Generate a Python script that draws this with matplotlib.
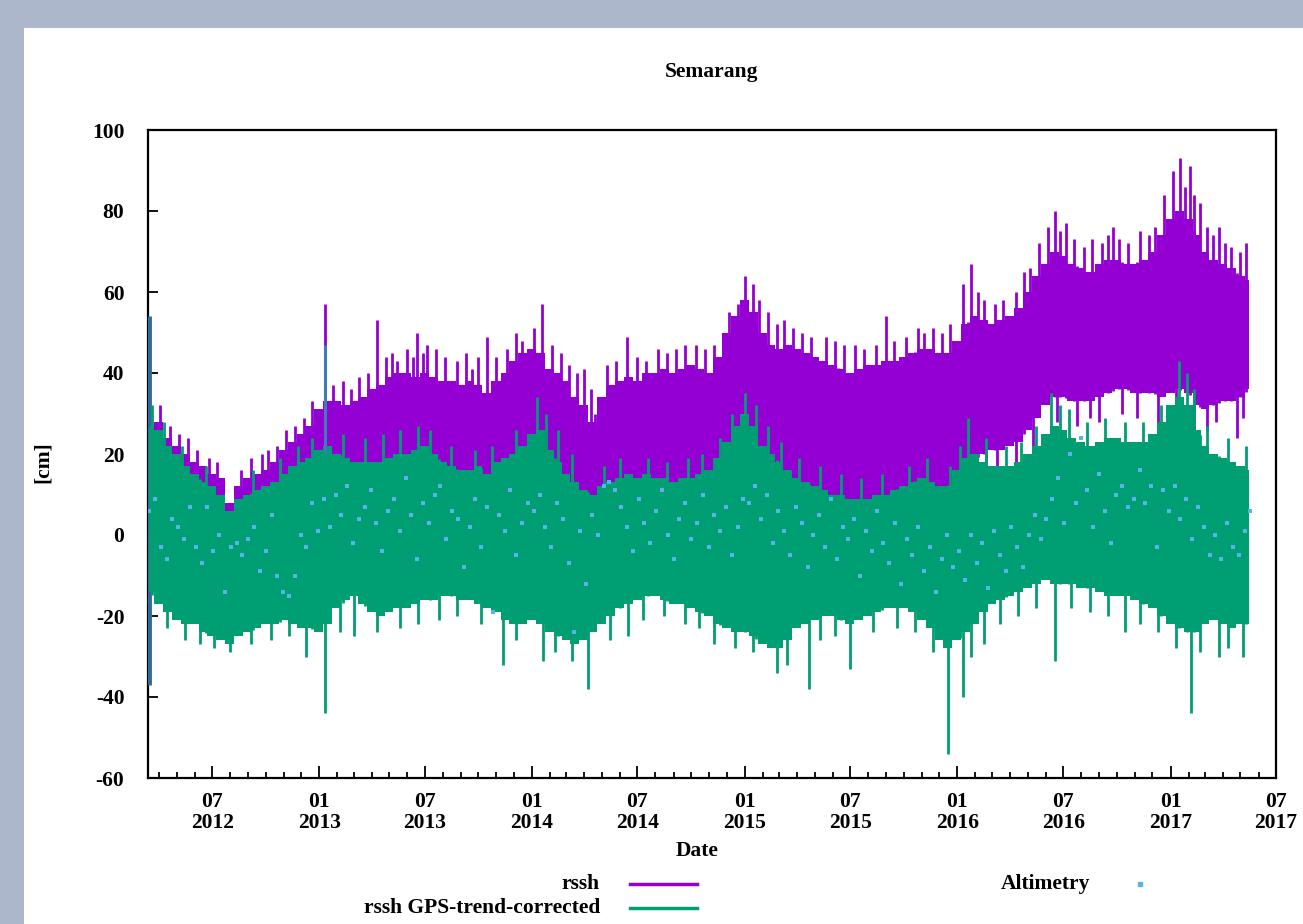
import numpy as np
import pandas as pd
import matplotlib
matplotlib.use("Agg")
import matplotlib.pyplot as plt
import matplotlib.dates as mdates
from matplotlib.patches import Rectangle
from matplotlib.lines import Line2D

plt.rcParams['font.family'] = ['Liberation Serif', 'DejaVu Serif']
plt.rcParams['axes.unicode_minus'] = False

# ---------------- data ----------------
title = "Semarang"
y_label = "[cm]"
x_label = "Date"
series_names = ["rssh", "rssh GPS-trend-corrected", "Altimetry"]

# semi-monthly samples (1st and 15th), 2012-03-15 .. 2017-05-15
band_start = "2012-03-15"
# rssh: upper / lower edge of the dense band
rssh_hi = [27, 28, 24, 22, 20, 18, 17, 15, 14, 8, 12, 14, 15, 16, 18, 21, 23, 25, 27,
           31, 33, 33, 32, 33, 34, 36, 37, 39, 40, 40, 39, 40, 39, 38, 38, 37, 38, 37, 35, 38, 40, 43, 45,
           46, 45, 41, 40, 38, 34, 32, 28, 34, 37, 38, 39, 38, 40, 40, 41, 40, 41, 42, 41, 40, 44, 50, 54,
           58, 55, 50, 47, 46, 47, 46, 45, 44, 43, 42, 41, 40, 41, 42, 42, 43, 43, 44, 45, 46, 46, 45, 45,
           48, 52, 54, 53, 52, 53, 54, 56, 60, 64, 67, 70, 69, 67, 66, 65, 67, 68, 68, 67, 67, 68, 70, 74,
           78, 80, 78, 74, 70, 68, 67, 66, 64, 63]
rssh_lo = [-12, -14, -16, -18, -18, -17, -18, -19, -19, -19, -18, -17, -16, -14, -13, -12, -11, -9, -7,
           -5, -3, -3, -2, 0, 1, 2, 3, 4, 4, 5, 6, 7, 7, 7, 8, 7, 7, 6, 5, 6, 6, 8, 10,
           12, 12, 9, 8, 6, 4, 3, 5, 8, 9, 10, 10, 10, 11, 11, 11, 10, 11, 12, 12, 13, 15, 18, 20,
           22, 20, 17, 15, 14, 14, 13, 12, 11, 10, 9, 8, 6, 6, 7, 8, 9, 10, 11, 12, 13, 13, 12, 11,
           14, 17, 19, 20, 21, 21, 22, 23, 26, 29, 32, 34, 34, 33, 33, 33, 34, 35, 36, 36, 35, 35, 35, 34,
           35, 36, 35, 32, 31, 32, 33, 33, 34, 36]
# GPS-trend-corrected rssh: upper / lower edge of the dense band
corr_hi = [27, 26, 22, 20, 17, 15, 13, 12, 10, 6, 9, 10, 11, 12, 13, 15, 17, 18, 19,
           21, 22, 20, 19, 18, 18, 18, 18, 19, 20, 20, 21, 22, 20, 18, 17, 16, 16, 17, 15, 18, 19, 20, 22,
           25, 26, 21, 18, 15, 13, 11, 10, 12, 13, 14, 15, 14, 15, 14, 14, 13, 14, 14, 15, 16, 19, 23, 27,
           30, 27, 22, 20, 18, 16, 14, 13, 12, 11, 10, 10, 9, 9, 9, 10, 10, 11, 12, 13, 14, 13, 12, 12,
           16, 19, 20, 18, 17, 17, 17, 18, 20, 22, 25, 27, 26, 24, 23, 22, 23, 24, 24, 23, 23, 23, 25, 28,
           32, 34, 32, 26, 22, 20, 19, 18, 17, 16]
corr_lo = [-14, -17, -19, -21, -22, -22, -24, -25, -26, -27, -25, -24, -23, -22, -22, -21, -22, -23, -23,
           -24, -22, -18, -16, -15, -17, -19, -20, -19, -18, -18, -17, -16, -16, -15, -15, -16, -16, -17, -18, -19, -21, -22, -22,
           -21, -22, -24, -25, -26, -27, -26, -24, -22, -20, -18, -17, -16, -15, -15, -16, -17, -17, -18, -19, -20, -22, -23, -24,
           -24, -25, -27, -28, -28, -26, -23, -22, -21, -20, -20, -21, -22, -21, -20, -19, -18, -18, -18, -19, -21, -23, -26, -28,
           -26, -24, -22, -19, -17, -16, -15, -14, -13, -12, -11, -12, -12, -12, -13, -13, -14, -15, -15, -15, -16, -17, -18, -20,
           -22, -23, -24, -24, -22, -21, -22, -23, -22, -22]

# isolated spikes above / below the bands (date, value)
rssh_up_dates = ["2012-04-03", "2012-04-20", "2012-05-05", "2012-05-20", "2012-06-05", "2012-06-25", "2012-07-10",
                 "2012-08-20", "2012-09-05", "2012-09-25", "2012-10-05", "2012-10-20", "2012-11-05", "2012-11-20",
                 "2012-12-05", "2012-12-20",
                 "2013-01-11", "2013-01-25", "2013-02-10", "2013-02-25", "2013-03-10", "2013-03-25", "2013-04-10",
                 "2013-04-25", "2013-05-05", "2013-05-15", "2013-06-01", "2013-06-10", "2013-06-18", "2013-06-28",
                 "2013-07-05", "2013-07-20", "2013-08-05", "2013-08-25", "2013-09-10", "2013-09-20", "2013-09-30",
                 "2013-10-16", "2013-11-01", "2013-11-20", "2013-12-05", "2013-12-15",
                 "2014-01-05", "2014-01-18", "2014-02-05", "2014-02-20", "2014-03-05", "2014-03-20", "2014-04-01",
                 "2014-04-12", "2014-05-10", "2014-05-25", "2014-06-13", "2014-07-01", "2014-07-15", "2014-08-05",
                 "2014-08-20", "2014-09-05", "2014-09-20", "2014-10-10", "2014-10-25", "2014-11-10", "2014-11-25",
                 "2014-12-05", "2014-12-20",
                 "2015-01-02", "2015-01-15", "2015-01-25", "2015-02-10", "2015-02-25", "2015-03-10", "2015-03-25",
                 "2015-04-10", "2015-04-25", "2015-05-20", "2015-06-05", "2015-06-20", "2015-07-10", "2015-07-25",
                 "2015-08-15", "2015-08-31", "2015-09-15", "2015-10-05", "2015-10-25", "2015-11-05", "2015-11-20",
                 "2015-12-05", "2015-12-20",
                 "2016-01-10", "2016-01-25", "2016-02-05", "2016-02-15", "2016-03-05", "2016-03-20", "2016-04-10",
                 "2016-04-25", "2016-05-05", "2016-05-20", "2016-06-05", "2016-06-17", "2016-06-25", "2016-07-05",
                 "2016-07-20", "2016-08-05", "2016-08-20", "2016-09-05", "2016-09-15", "2016-09-25", "2016-10-05",
                 "2016-10-20", "2016-11-10", "2016-11-25", "2016-12-05", "2016-12-20",
                 "2017-01-05", "2017-01-18", "2017-01-25", "2017-02-03", "2017-02-10", "2017-02-20", "2017-03-05",
                 "2017-03-15", "2017-03-25", "2017-04-05", "2017-04-15", "2017-05-01", "2017-05-10"]
rssh_up_vals = [32, 27, 25, 24, 21, 19, 18, 16, 19, 20, 21, 22, 26, 27, 29, 33,
                57, 37, 38, 36, 39, 40, 53, 44, 45, 43, 46, 44, 50, 45, 47, 46, 44, 43, 45, 41, 44, 49, 44, 46, 50, 48,
                51, 57, 47, 45, 42, 40, 41, 36, 42, 43, 49, 44, 43, 46, 45, 46, 47, 47, 46, 47, 50, 55, 57,
                64, 62, 58, 55, 52, 53, 51, 50, 49, 49, 48, 47, 47, 46, 47, 54, 48, 49, 51, 50, 51, 50, 52,
                62, 67, 60, 58, 57, 58, 60, 65, 66, 72, 76, 80, 75, 77, 73, 71, 73, 72, 74, 76, 73, 72, 75, 74, 76, 84,
                90, 93, 86, 91, 84, 82, 76, 74, 76, 72, 71, 70, 72]
rssh_dn_dates = ["2014-04-20", "2015-04-20", "2015-06-10", "2015-07-10", "2015-08-05", "2015-09-10", "2015-10-20",
                 "2015-11-15", "2015-12-10", "2016-01-20", "2016-02-20", "2016-03-10", "2016-04-10", "2016-05-10",
                 "2016-06-20", "2016-07-25", "2016-08-15", "2016-09-01", "2016-10-10", "2016-11-05", "2016-12-10",
                 "2017-01-10", "2017-02-10", "2017-03-05", "2017-03-20", "2017-04-25", "2017-05-05"]
rssh_dn_vals = [4, 9, 6, 2, 4, 6, 5, 8, 6, 12, 14, 15, 17, 22, 28, 27, 29, 28, 30, 29, 28,
                29, 25, 26, 28, 24, 29]
corr_up_dates = ["2012-03-20", "2012-04-10", "2012-05-10", "2012-06-20", "2012-09-10", "2012-10-25", "2012-11-25",
                 "2012-12-20", "2013-02-10", "2013-03-20", "2013-04-20", "2013-05-20", "2013-06-20", "2013-07-10",
                 "2013-08-15", "2013-09-25", "2013-10-25", "2013-12-05", "2014-01-10", "2014-01-25", "2014-02-15",
                 "2014-03-10", "2014-05-05", "2014-06-01", "2014-07-20", "2014-08-20", "2014-09-25", "2014-10-20",
                 "2014-11-20", "2014-12-10", "2015-01-02", "2015-01-20", "2015-02-10", "2015-03-05", "2015-04-05",
                 "2015-05-10", "2015-06-15", "2015-07-20", "2015-08-25", "2015-10-10", "2015-11-10", "2015-12-20",
                 "2016-01-05", "2016-01-20", "2016-02-20", "2016-03-25", "2016-04-20", "2016-05-15", "2016-06-10",
                 "2016-06-25", "2016-07-10", "2016-08-10", "2016-09-10", "2016-10-15", "2016-11-15", "2016-12-15",
                 "2017-01-15", "2017-01-30", "2017-02-10", "2017-03-05", "2017-04-10", "2017-05-10"]
corr_up_vals = [32, 28, 22, 17, 16, 19, 22, 24, 25, 24, 25, 26, 27, 26, 22, 21, 22, 26, 34, 30, 26,
                20, 17, 19, 19, 18, 19, 20, 24, 30, 35, 32, 27, 23, 19, 17, 15, 14, 15, 17, 19, 17,
                22, 29, 24, 22, 23, 27, 35, 32, 31, 28, 29, 28, 28, 32, 43, 40, 36, 27, 24, 22]
corr_dn_dates = ["2012-04-15", "2012-05-15", "2012-06-10", "2012-07-05", "2012-08-01", "2012-09-05", "2012-10-10",
                 "2012-11-10", "2012-12-10", "2013-01-11", "2013-02-05", "2013-03-01", "2013-04-10", "2013-05-20",
                 "2013-06-20", "2013-07-25", "2013-08-25", "2013-10-05", "2013-11-12", "2013-12-05", "2014-01-20",
                 "2014-02-10", "2014-03-10", "2014-04-07", "2014-05-15", "2014-06-15", "2014-07-10", "2014-08-15",
                 "2014-09-20", "2014-10-15", "2014-11-10", "2014-12-15", "2015-01-15", "2015-02-25", "2015-03-15",
                 "2015-04-21", "2015-05-10", "2015-06-05", "2015-07-01", "2015-08-10", "2015-09-20", "2015-10-20",
                 "2015-11-20", "2015-12-16", "2016-01-10", "2016-01-25", "2016-02-15", "2016-03-15", "2016-04-15",
                 "2016-05-15", "2016-06-17", "2016-07-15", "2016-08-15", "2016-09-15", "2016-10-15", "2016-11-10",
                 "2016-12-10", "2017-01-10", "2017-02-05", "2017-02-20", "2017-03-25", "2017-04-10", "2017-05-05"]
corr_dn_vals = [-23, -26, -27, -28, -29, -27, -26, -25, -30, -44, -24, -25, -24, -23, -22, -21, -20, -22, -32,
                -26, -31, -29, -31, -38, -26, -25, -21, -20, -22, -23, -27, -28, -29, -34, -32, -38, -26, -25,
                -33, -24, -23, -24, -29, -54, -40, -30, -27, -22, -20, -18, -31, -18, -19, -20, -24, -22, -24,
                -28, -44, -29, -30, -28, -30]
# bluish spike of the first record at the very start, and the Jan 2013 bluish spike
start_spike_date = "2012-03-14"
start_spike = [-37, 54]
blue_spike_date = "2013-01-11"
blue_spike = [20, 47]

# altimetry, one value every 10 days from 2012-03-15
alt_start = "2012-03-15"
altimetry = [6, 9, -3, -6, 4, 2, -1, 7, -3, -7, 7, -4, 0, -14, -3, -2, -5, -1, 2, -9, -4, 5, -10, -14, -15, -10, 0, -3, 8, 1,
             9, 2, 10, 5, 12, -2, 4, 7, 11, 3, -4, 6, 9, 1, 14, 5, -6, 8, 3, 10, 12, -1, 6, 4, -8, 2, 9, -3, 7, -19, 5, 1, 11, -5, 3, 8,
             6, 10, 2, -3, 8, 4, -7, -24, 1, -12, 5, 0, 12, 13, 11, 7, 2, -4, 9, 3, -2, 6, 11, 0, -6, 4, 8, -1, 3, 10, -3, 5, 1, 7, -5, 2, 9,
             8, 12, 4, 10, -2, 6, 1, -5, 7, 3, -8, 0, 5, -3, 9, -6, 2, -1, 4, -10, 1, -4, 6, -2, -7, 3, -12, -1, -5, 2, -9, -3, -14, -6, 0, -8,
             -4, -11, 0, -7, -2, -13, 1, -5, -9, 2, -3, -8, 0, 5, -1, 4, 9, 14, 3, 20, 8, 24, 11, 2, 15, 6, -2, 10, 12, 7, 9, 16, 8, 12, -3, 11, 6,
             12, 4, 9, -1, 7, 2, -5, 0, -6, 3, -3, -5, 1, 6]

x_start, x_end = "2012-03-13", "2017-07-01"
y_ticks = [-60, -40, -20, 0, 20, 40, 60, 80, 100]

# ---------------- styling ----------------
C_RSSH = "#9400d3"
C_CORR = "#009e73"
C_ALT = "#56b4e9"
C_BLUE = "#2f6a9c"
FS = 15.5
FW = "bold"

W, H = 1303, 924
fig = plt.figure(figsize=(W / 100, H / 100), dpi=100, facecolor="#adb7cb")
fig.patches.append(Rectangle((24 / W, 0), 1, (H - 28) / H, transform=fig.transFigure,
                             facecolor="white", edgecolor="none", zorder=-1))
ax = fig.add_axes([148 / W, 1 - 778 / H, (1276 - 148) / W, (778 - 130) / H])

band_dates = mdates.date2num(pd.date_range(band_start, periods=len(rssh_hi), freq="SMS"))
alt_dates = mdates.date2num(pd.date_range(alt_start, periods=len(altimetry), freq="10D"))


def to_num(ds):
    return mdates.date2num(pd.to_datetime(ds))


def spikes(dates, vals, base, color, z):
    d = to_num(dates)
    b = np.interp(d, band_dates, base)
    ax.vlines(d, b, vals, color=color, lw=2.0, zorder=z)


# rssh
ax.fill_between(band_dates, rssh_lo, rssh_hi, step="mid", color=C_RSSH, lw=0, zorder=2)
spikes(rssh_up_dates, rssh_up_vals, rssh_lo, C_RSSH, 2)
spikes(rssh_dn_dates, rssh_dn_vals, rssh_hi, C_RSSH, 2)
ax.vlines(to_num([start_spike_date]), start_spike[0], start_spike[1], color=C_BLUE, lw=3.5, zorder=3)

# corrected
ax.fill_between(band_dates, corr_lo, corr_hi, step="mid", color=C_CORR, lw=0, zorder=4)
spikes(corr_up_dates, corr_up_vals, corr_lo, C_CORR, 4)
spikes(corr_dn_dates, corr_dn_vals, corr_hi, C_CORR, 4)
ax.vlines(to_num([blue_spike_date]), blue_spike[0], blue_spike[1], color="#3d7cb4", lw=2.2, zorder=4)

# altimetry
ax.scatter(alt_dates, altimetry, s=10, marker="s", color=C_ALT, lw=0, zorder=5)

# axes
ax.set_xlim(to_num([x_start])[0], to_num([x_end])[0])
ax.set_ylim(-60, 100)
ax.set_yticks(y_ticks)
ax.set_yticklabels([str(v) for v in y_ticks])
ax.xaxis.set_major_locator(mdates.MonthLocator(bymonth=[1, 7]))
ax.xaxis.set_major_formatter(mdates.DateFormatter("%m\n%Y"))
ax.xaxis.set_minor_locator(mdates.MonthLocator())
ax.tick_params(axis="both", which="both", direction="in", top=False, right=False,
               labelsize=FS, width=1.3, colors="black")
ax.tick_params(axis="x", which="major", length=9, pad=10)
ax.tick_params(axis="x", which="minor", length=4.5)
ax.tick_params(axis="y", which="major", length=7, pad=17)
for lbl in ax.get_xticklabels() + ax.get_yticklabels():
    lbl.set_fontweight(FW)
for lbl in ax.get_xticklabels():
    lbl.set_linespacing(1.1)
for s in ax.spines.values():
    s.set_linewidth(1.6)
    s.set_color("black")

fig.text(712 / W, 1 - 72 / H, title, ha="center", va="center", fontsize=FS, fontweight=FW)
fig.text(43 / W, 1 - 462 / H, y_label, ha="center", va="center", rotation=90, fontsize=FS, fontweight=FW)
fig.text(697 / W, 1 - 851 / H, x_label, ha="center", va="center", fontsize=FS, fontweight=FW)

# legend (gnuplot-style)
fig.text(600 / W, 1 - 884 / H, series_names[0], ha="right", va="center", fontsize=FS, fontweight=FW)
fig.text(600 / W, 1 - 908 / H, series_names[1], ha="right", va="center", fontsize=FS, fontweight=FW)
fig.add_artist(Line2D([630 / W, 697 / W], [1 - 884 / H] * 2, color=C_RSSH, lw=2.5, transform=fig.transFigure))
fig.add_artist(Line2D([630 / W, 697 / W], [1 - 908 / H] * 2, color=C_CORR, lw=2.5, transform=fig.transFigure))
fig.text(1045 / W, 1 - 884 / H, series_names[2], ha="center", va="center", fontsize=FS, fontweight=FW)
fig.add_artist(Line2D([1140 / W], [1 - 884 / H], marker="s", markersize=3, color=C_ALT, lw=0,
                      transform=fig.transFigure))

fig.savefig("out.png", dpi=100, facecolor=fig.get_facecolor())
